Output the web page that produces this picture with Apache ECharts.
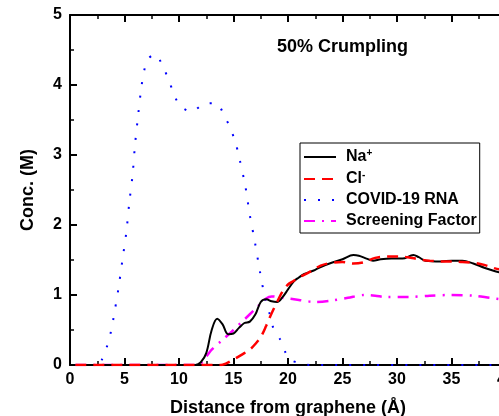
<!DOCTYPE html>
<html><head><meta charset="utf-8">
<script src="https://cdn.jsdelivr.net/npm/echarts@6/dist/echarts.min.js"></script>
<style>html,body{margin:0;padding:0;background:#fff}#c{width:499px;height:416px}</style>
</head><body><div id="c"></div>
<script>
const seriesNames = ['Na+', 'Cl-', 'COVID-19 RNA', 'Screening Factor'];
const naData = [[0.5,0],[11.5,0],[12,0.04],[12.5,0.17],[13,0.5],[13.5,0.66],[14,0.58],[14.5,0.44],[15,0.45],[15.5,0.53],[16,0.6],[16.5,0.62],[17,0.72],[17.5,0.9],[18,0.94],[18.5,0.91],[19,0.9],[19.5,0.97],[20,1.08],[20.5,1.19],[21,1.25],[21.5,1.3],[22,1.33],[22.5,1.36],[23,1.40],[24,1.46],[25,1.51],[26,1.57],[26.5,1.56],[27.2,1.52],[27.8,1.49],[28.5,1.51],[29.5,1.52],[30.5,1.52],[31.5,1.57],[32,1.54],[32.6,1.49],[34,1.48],[35,1.49],[36,1.49],[37,1.45],[38,1.39],[39,1.34],[40,1.30]];
const clData = [[0.5,0],[13.5,0],[14,0.005],[15,0.08],[16,0.17],[16.5,0.22],[17,0.3],[17.5,0.4],[18,0.56],[18.5,0.74],[19,0.9],[19.5,1.05],[20,1.15],[20.5,1.2],[21,1.25],[22,1.33],[23,1.42],[24,1.46],[25,1.47],[26,1.45],[27,1.47],[28,1.53],[29,1.55],[30,1.55],[31,1.54],[32,1.51],[33,1.49],[34,1.48],[35,1.48],[36,1.47],[37,1.46],[38,1.43],[39,1.38],[40,1.35]];
const rnaData = [[0.5,0],[2.4,0],[2.9,0.07],[3.4,0.27],[3.76,0.48],[4.0,0.68],[4.43,1.08],[4.8,1.49],[5.17,1.9],[5.44,2.32],[5.75,2.73],[5.96,3.14],[6.24,3.55],[6.54,3.96],[6.8,4.2],[7.1,4.36],[7.8,4.44],[8.56,4.25],[9.08,4.06],[9.54,3.87],[10.1,3.7],[11.16,3.62],[12.3,3.73],[13.4,3.74],[14.16,3.56],[14.74,3.37],[15.2,3.17],[15.53,2.96],[16.08,2.56],[16.5,2.14],[16.97,1.75],[17.43,1.33],[17.9,0.95],[18.3,0.74],[18.6,0.55],[19.3,0.36],[19.8,0.17],[20.3,0.07],[21,0.03],[22,0],[40,0]];
const sfData = [[0.5,0],[11.7,0],[12.5,0.12],[13,0.22],[14,0.36],[15,0.5],[16,0.65],[17,0.8],[18,0.95],[18.5,0.98],[19.5,0.96],[21,0.93],[22.5,0.9],[24,0.92],[25.5,0.96],[27,1.0],[28,0.99],[29,0.97],[31,0.97],[33,0.99],[35,1.0],[37,0.99],[38.5,0.96],[40,0.93]];
const titleText = '50% Crumpling';
const xName = 'Distance from graphene (Å)';
const yName = 'Conc. (M)';

const FF = '"Liberation Sans", Arial, sans-serif';
const chart = echarts.init(document.getElementById('c'), null, {renderer:'canvas'});
const axisBase = {
  axisLine:{show:true, onZero:false, lineStyle:{color:'#000', width:2}},
  axisTick:{show:true, inside:true, length:7, lineStyle:{color:'#000', width:2}},
  minorTick:{show:true, splitNumber:2, length:4, lineStyle:{color:'#000', width:1.5}},
  splitLine:{show:false}
};
chart.setOption({
  animation:false,
  title:{text:titleText, left:277, top:38, padding:0, textStyle:{fontFamily:FF, fontWeight:'bold', fontSize:18, color:'#000'}},
  grid:{left:70, top:15, width:436, height:350, containLabel:false, outerBoundsMode:'none'},
  legend:{
    orient:'vertical', left:300, top:143, padding:[5,3,4,3],
    borderColor:'#000', borderWidth:1, itemWidth:32, itemHeight:14, itemGap:5,
    itemStyle:{opacity:0},
    data: seriesNames,
    formatter: function(n){
      if(n==='Na+') return '{b|Na}{s|+}';
      if(n==='Cl-') return '{b|Cl}{s|-}';
      return '{b|'+n+'}';
    },
    textStyle:{fontFamily:FF, fontWeight:'bold', fontSize:16, color:'#000', padding:[0,0,0,5],
      rich:{b:{fontFamily:FF, fontWeight:'bold', fontSize:16, color:'#000'},
            s:{fontFamily:FF, fontWeight:'bold', fontSize:10, color:'#000', verticalAlign:'top', padding:[0,0,8,0]}}}
  },
  xAxis:[
    Object.assign({type:'value', min:0, max:40, interval:5, position:'bottom',
      name:xName, nameLocation:'middle', nameGap:34,
      nameTextStyle:{fontFamily:FF, fontWeight:'bold', fontSize:18, color:'#000'},
      axisLabel:{fontFamily:FF, fontWeight:'bold', fontSize:16, color:'#000', margin:7}}, axisBase),
    Object.assign({type:'value', min:0, max:40, interval:5, position:'top', axisLabel:{show:false}}, axisBase)
  ],
  yAxis:[
    Object.assign({type:'value', min:0, max:5, interval:1, position:'left',
      name:yName, nameLocation:'middle', nameGap:33,
      nameTextStyle:{fontFamily:FF, fontWeight:'bold', fontSize:18, color:'#000'},
      axisLabel:{fontFamily:FF, fontWeight:'bold', fontSize:16, color:'#000', margin:8}}, axisBase),
    Object.assign({type:'value', min:0, max:5, interval:1, position:'right', axisLabel:{show:false}}, axisBase)
  ],
  series:[
    {name:seriesNames[0], type:'line', data:naData, symbol:'none', smooth:0.35, z:3,
      lineStyle:{color:'#000', width:2}, itemStyle:{color:'#000'}},
    {name:seriesNames[1], type:'line', data:clData, symbol:'none', smooth:0.35, z:4,
      lineStyle:{color:'#ff0000', width:2.5, type:[11,7]}, itemStyle:{color:'#ff0000'}},
    {name:seriesNames[2], type:'line', data:rnaData, symbol:'none', smooth:0.3, z:2,
      lineStyle:{color:'#0000ff', width:2, type:[2,12]}, itemStyle:{color:'#0000ff'}},
    {name:seriesNames[3], type:'line', data:sfData, symbol:'none', smooth:0.3, z:2,
      lineStyle:{color:'#ff00ff', width:2.5, type:[11,7,2,7]}, itemStyle:{color:'#ff00ff'}}
  ]
});
</script></body></html>
